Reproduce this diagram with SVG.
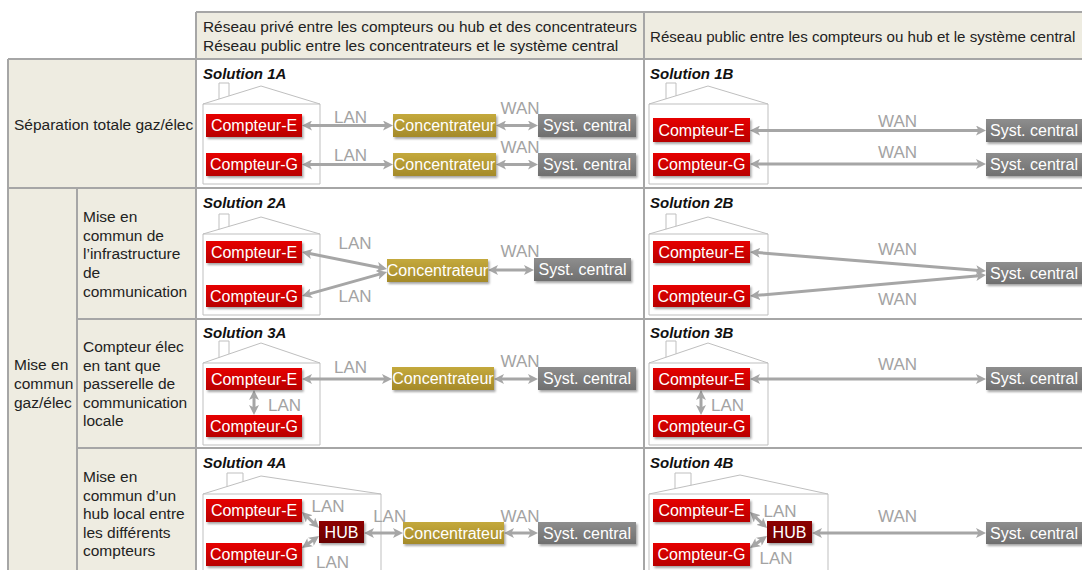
<svg xmlns="http://www.w3.org/2000/svg" width="1082" height="570" viewBox="0 0 1082 570">
<style>
.hd{fill:#eeece1}
.grid{stroke:#a6a6a6;stroke-width:2;fill:none}
.t{font-family:"Liberation Sans",Arial,sans-serif;font-size:15.5px;fill:#222}
.sol{font-family:"Liberation Sans",Arial,sans-serif;font-size:15px;font-weight:bold;font-style:italic;fill:#111}
.lbl{font-family:"Liberation Sans",Arial,sans-serif;font-size:17px;fill:#a3a3a3;text-anchor:middle}
.nt{font-family:"Liberation Sans",Arial,sans-serif;font-size:16px;fill:#fff;text-anchor:middle}
.house{fill:none;stroke:#bfbfbf;stroke-width:1}
.arr{stroke:#a6a6a6;stroke-width:3;fill:none;marker-start:url(#ah);marker-end:url(#ah)}
.ce{fill:url(#gRed);filter:url(#sh)}
.co{fill:url(#gGold);filter:url(#sh)}
.sc{fill:url(#gGray);filter:url(#sh)}
.hub{fill:url(#gHub);filter:url(#sh)}
</style>
<defs>
<linearGradient id="gRed" x1="0" y1="0" x2="0" y2="1"><stop offset="0" stop-color="#e60000"/><stop offset="1" stop-color="#b80000"/></linearGradient>
<linearGradient id="gGold" x1="0" y1="0" x2="0" y2="1"><stop offset="0" stop-color="#c4a93c"/><stop offset="1" stop-color="#a48a2a"/></linearGradient>
<linearGradient id="gGray" x1="0" y1="0" x2="0" y2="1"><stop offset="0" stop-color="#8e8e8e"/><stop offset="1" stop-color="#6f6f6f"/></linearGradient>
<linearGradient id="gHub" x1="0" y1="0" x2="0" y2="1"><stop offset="0" stop-color="#8e0000"/><stop offset="1" stop-color="#680000"/></linearGradient>
<filter id="sh" x="-10%" y="-25%" width="125%" height="170%"><feDropShadow dx="1.5" dy="2" stdDeviation="1.2" flood-color="#000" flood-opacity="0.35"/></filter>
<marker id="ah" viewBox="0 0 10 10" refX="6" refY="5" markerWidth="10" markerHeight="10" markerUnits="userSpaceOnUse" orient="auto-start-reverse"><path d="M0,0 L10,5 L0,10 L2.5,5 z" fill="#a6a6a6"/></marker>
</defs>

<g id="table">
<rect class="hd" x="196" y="12" width="886" height="47"/>
<rect class="hd" x="8" y="59" width="188" height="129"/>
<rect class="hd" x="8" y="188" width="188" height="382"/>
<path class="grid" d="M196,12 H1082 M8,59 H1082 M8,188 H1082 M77,319 H1082 M77,448 H1082 M8,59 V570 M77,188 V570 M196,12 V570 M644,12 V570"/>
<text class="t" x="203" y="31.5" textLength="434" lengthAdjust="spacingAndGlyphs">Réseau privé entre les compteurs ou hub et des concentrateurs</text>
<text class="t" x="203" y="50.5">Réseau public entre les concentrateurs et le système central</text>
<text class="t" x="650" y="41.5" style="font-size:15.1px">Réseau public entre les compteurs ou hub et le système central</text>
<text class="t" x="14" y="130">Séparation totale gaz/élec</text>
<text class="t" x="14" y="370">Mise en</text>
<text class="t" x="14" y="389">commun</text>
<text class="t" x="14" y="408">gaz/élec</text>
<text class="t" x="83" y="222">Mise en</text>
<text class="t" x="83" y="241">commun de</text>
<text class="t" x="83" y="259">l’infrastructure</text>
<text class="t" x="83" y="278">de</text>
<text class="t" x="83" y="297">communication</text>
<text class="t" x="83" y="352">Compteur élec</text>
<text class="t" x="83" y="371">en tant que</text>
<text class="t" x="83" y="389">passerelle de</text>
<text class="t" x="83" y="408">communication</text>
<text class="t" x="83" y="426">locale</text>
<text class="t" x="83" y="482">Mise en</text>
<text class="t" x="83" y="501">commun d’un</text>
<text class="t" x="83" y="519">hub local entre</text>
<text class="t" x="83" y="538">les différents</text>
<text class="t" x="83" y="556">compteurs</text>
<text class="sol" x="203" y="79">Solution 1A</text>
<text class="sol" x="650" y="79">Solution 1B</text>
<text class="sol" x="203" y="208">Solution 2A</text>
<text class="sol" x="650" y="208">Solution 2B</text>
<text class="sol" x="203" y="338">Solution 3A</text>
<text class="sol" x="650" y="338">Solution 3B</text>
<text class="sol" x="203" y="468">Solution 4A</text>
<text class="sol" x="650" y="468">Solution 4B</text>
</g>

<g id="houses">
<path class="house" d="M203,104 H320 V184 H203 Z M203,104 L261,86 L320,104 M219,99 V83 H229 V95.9"/>
<path class="house" d="M649,104 H768 V184 H649 Z M649,104 L708,86 L768,104 M666,98.8 V83 H676 V95.8"/>
<path class="house" d="M203,234 H320 V315 H203 Z M203,234 L261,217 L320,234 M219,229.3 V214 H229 V226.4"/>
<path class="house" d="M649,234 H768 V315 H649 Z M649,234 L708,217 L768,234 M666,229.1 V214 H676 V226.2"/>
<path class="house" d="M203,363 H320 V445 H203 Z M203,363 L261,343 L320,363 M219,357.5 V341 H229 V354"/>
<path class="house" d="M649,363 H768 V445 H649 Z M649,363 L708,343 L768,363 M666,357.2 V341 H676 V353.8"/>
<path class="house" d="M203,575 V494 H381 V575 M203,494 L261,476 L381,494 M227,486.6 V473 H243 V481.6"/>
<path class="house" d="M649,575 V494 H828 V575 M649,494 L740,475 L828,494 M675,488.6 V473 H691 V485.2"/>
</g>

<g id="connectors">
<path class="arr" d="M306,125.5 H389"/>
<path class="arr" d="M306,164.5 H389"/>
<path class="arr" d="M500,125.5 H534"/>
<path class="arr" d="M500,164.5 H534"/>
<path class="arr" d="M754,130.5 H982"/>
<path class="arr" d="M754,164 H982"/>
<path class="arr" d="M305.9,252.8 L383.1,268.2"/>
<path class="arr" d="M305.8,294.9 L383.2,273.1"/>
<path class="arr" d="M492,270 H530"/>
<path class="arr" d="M754,252.3 L982,270.7"/>
<path class="arr" d="M754,295.6 L982,275.4"/>
<path class="arr" d="M306,379 H388"/>
<path class="arr" d="M498,379 H534"/>
<path class="arr" d="M254,394 V411"/>
<path class="arr" d="M754,379 H982"/>
<path class="arr" d="M701,394 V411"/>
<path class="arr" d="M304.9,514.7 L316.1,525.3"/>
<path class="arr" d="M305.3,545.7 L315.7,538.3"/>
<path class="arr" d="M368,533 H399"/>
<path class="arr" d="M508,533 H534"/>
<path class="arr" d="M752.9,514.7 L764.1,525.3"/>
<path class="arr" d="M753.3,545.7 L763.7,538.3"/>
<path class="arr" d="M816,533 H982"/>
</g>

<g id="labels">
<text class="lbl" x="350.5" y="122.5">LAN</text>
<text class="lbl" x="350.5" y="160.5">LAN</text>
<text class="lbl" x="520" y="114">WAN</text>
<text class="lbl" x="520" y="153">WAN</text>
<text class="lbl" x="897.5" y="126.5">WAN</text>
<text class="lbl" x="897.5" y="158">WAN</text>
<text class="lbl" x="355" y="249">LAN</text>
<text class="lbl" x="355" y="302">LAN</text>
<text class="lbl" x="520" y="257">WAN</text>
<text class="lbl" x="897.5" y="255">WAN</text>
<text class="lbl" x="897.5" y="305">WAN</text>
<text class="lbl" x="350.5" y="372.5">LAN</text>
<text class="lbl" x="284.5" y="410.5">LAN</text>
<text class="lbl" x="520" y="367">WAN</text>
<text class="lbl" x="897.5" y="370">WAN</text>
<text class="lbl" x="727.5" y="410.5">LAN</text>
<text class="lbl" x="328" y="511.5">LAN</text>
<text class="lbl" x="332.5" y="568">LAN</text>
<text class="lbl" x="389.7" y="521.5">LAN</text>
<text class="lbl" x="520" y="521.5">WAN</text>
<text class="lbl" x="780" y="517">LAN</text>
<text class="lbl" x="776" y="564">LAN</text>
<text class="lbl" x="897.5" y="521.5">WAN</text>
</g>

<g id="n1a-ce"><rect class="ce" x="206" y="114" width="96" height="23"/><text class="nt" x="254" y="131">Compteur-E</text></g>
<g id="n1a-cg"><rect class="ce" x="206" y="153" width="96" height="23"/><text class="nt" x="254" y="170">Compteur-G</text></g>
<g id="n1a-co1"><rect class="co" x="393" y="114" width="103" height="23"/><text class="nt" x="444.5" y="131">Concentrateur</text></g>
<g id="n1a-co2"><rect class="co" x="393" y="153" width="103" height="23"/><text class="nt" x="444.5" y="170">Concentrateur</text></g>
<g id="n1a-sc1"><rect class="sc" x="538" y="114" width="98" height="23"/><text class="nt" x="587" y="131">Syst. central</text></g>
<g id="n1a-sc2"><rect class="sc" x="538" y="153" width="98" height="23"/><text class="nt" x="587" y="170">Syst. central</text></g>

<g id="n1b-ce"><rect class="ce" x="653" y="118" width="97" height="24"/><text class="nt" x="701.5" y="135.5">Compteur-E</text></g>
<g id="n1b-cg"><rect class="ce" x="653" y="153" width="97" height="23"/><text class="nt" x="701.5" y="170">Compteur-G</text></g>
<g id="n1b-sc1"><rect class="sc" x="986" y="119" width="98" height="23"/><text class="nt" x="1034" y="136">Syst. central</text></g>
<g id="n1b-sc2"><rect class="sc" x="986" y="153" width="98" height="23"/><text class="nt" x="1034" y="170">Syst. central</text></g>

<g id="n2a-ce"><rect class="ce" x="206" y="241" width="96" height="22"/><text class="nt" x="254" y="257.5">Compteur-E</text></g>
<g id="n2a-cg"><rect class="ce" x="206" y="285" width="96" height="22"/><text class="nt" x="254" y="301.5">Compteur-G</text></g>
<g id="n2a-co"><rect class="co" x="387" y="259" width="101" height="23"/><text class="nt" x="437.5" y="276">Concentrateur</text></g>
<g id="n2a-sc"><rect class="sc" x="534" y="258" width="97" height="23"/><text class="nt" x="582.5" y="275">Syst. central</text></g>

<g id="n2b-ce"><rect class="ce" x="653" y="241" width="97" height="22"/><text class="nt" x="701.5" y="257.5">Compteur-E</text></g>
<g id="n2b-cg"><rect class="ce" x="653" y="285" width="97" height="22"/><text class="nt" x="701.5" y="301.5">Compteur-G</text></g>
<g id="n2b-sc"><rect class="sc" x="986" y="262" width="98" height="22"/><text class="nt" x="1034" y="278.5">Syst. central</text></g>

<g id="n3a-ce"><rect class="ce" x="206" y="368" width="96" height="22"/><text class="nt" x="254" y="384.5">Compteur-E</text></g>
<g id="n3a-cg"><rect class="ce" x="206" y="415" width="96" height="22"/><text class="nt" x="254" y="431.5">Compteur-G</text></g>
<g id="n3a-co"><rect class="co" x="392" y="367" width="102" height="23"/><text class="nt" x="443" y="384">Concentrateur</text></g>
<g id="n3a-sc"><rect class="sc" x="538" y="367" width="98" height="23"/><text class="nt" x="587" y="384">Syst. central</text></g>

<g id="n3b-ce"><rect class="ce" x="653" y="368" width="97" height="22"/><text class="nt" x="701.5" y="384.5">Compteur-E</text></g>
<g id="n3b-cg"><rect class="ce" x="653" y="415" width="97" height="22"/><text class="nt" x="701.5" y="431.5">Compteur-G</text></g>
<g id="n3b-sc"><rect class="sc" x="986" y="367" width="98" height="23"/><text class="nt" x="1034" y="384">Syst. central</text></g>

<g id="n4a-ce"><rect class="ce" x="206" y="499" width="96" height="23"/><text class="nt" x="254" y="516">Compteur-E</text></g>
<g id="n4a-cg"><rect class="ce" x="206" y="543" width="96" height="23"/><text class="nt" x="254" y="560">Compteur-G</text></g>
<g id="n4a-hub"><rect class="hub" x="319" y="521" width="45" height="22"/><text class="nt" x="341.5" y="537.5">HUB</text></g>
<g id="n4a-co"><rect class="co" x="403" y="522" width="101" height="22"/><text class="nt" x="453.5" y="538.5">Concentrateur</text></g>
<g id="n4a-sc"><rect class="sc" x="538" y="522" width="98" height="22"/><text class="nt" x="587" y="538.5">Syst. central</text></g>

<g id="n4b-ce"><rect class="ce" x="653" y="499" width="97" height="23"/><text class="nt" x="701.5" y="516">Compteur-E</text></g>
<g id="n4b-cg"><rect class="ce" x="653" y="543" width="97" height="23"/><text class="nt" x="701.5" y="560">Compteur-G</text></g>
<g id="n4b-hub"><rect class="hub" x="767" y="521" width="45" height="22"/><text class="nt" x="789.5" y="537.5">HUB</text></g>
<g id="n4b-sc"><rect class="sc" x="986" y="522" width="98" height="22"/><text class="nt" x="1034" y="538.5">Syst. central</text></g>
</svg>
